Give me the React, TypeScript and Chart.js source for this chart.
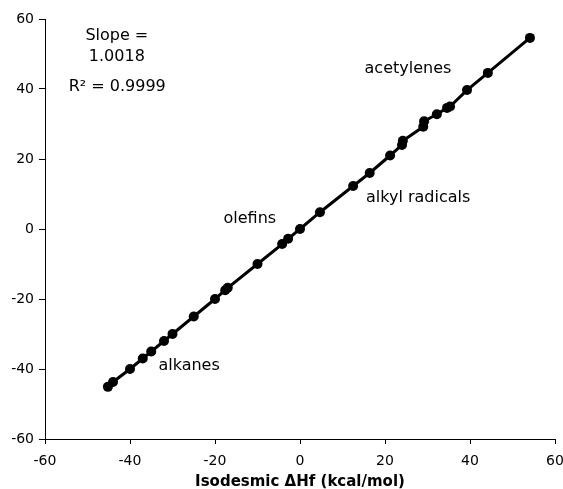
import React, { useEffect, useRef } from "react";
import { Chart, registerables } from "chart.js";

Chart.register(...registerables);

const xValues = [-45.2, -44, -40, -37, -35, -32, -30, -25, -20, -17.6, -17, -10, -4.2, -2.8, 0, 4.7, 12.5, 16.4, 21.2, 24, 24.2, 29, 29.2, 32.2, 34.6, 35.3, 39.3, 44.2, 54.1];
const yValues = [-45.1, -43.7, -40, -37, -35, -32, -30, -25, -20, -17.5, -16.8, -10, -4.3, -2.8, 0, 4.8, 12.3, 16, 21, 24, 25.2, 29.2, 30.8, 32.8, 34.6, 35, 39.7, 44.6, 54.6];

const xTitle = "Isodesmic \u0394Hf (kcal/mol)";

const labelTexts = ["Slope =", "1.0018", "R\u00B2 = 0.9999", "acetylenes", "alkyl radicals", "olefins", "alkanes"];
const labelX = [-43.1, -43.1, -43.0, 25.4, 27.8, -11.8, -26.1];
const labelY = [55.1, 49.1, 40.6, 45.7, 8.9, 2.9, -39.1];

const FONT = "'DejaVu Sans', Verdana, sans-serif";

const annotationPlugin = {
  id: "annotations",
  afterDatasetsDraw(chart: any) {
    const { ctx, scales } = chart;
    ctx.save();
    ctx.fillStyle = "#000";
    ctx.font = `16px ${FONT}`;
    ctx.textAlign = "center";
    ctx.textBaseline = "middle";
    labelTexts.forEach((t, i) => {
      ctx.fillText(t, scales.x.getPixelForValue(labelX[i]), scales.y.getPixelForValue(labelY[i]));
    });
    ctx.restore();
  },
};

export default function App() {
  const ref = useRef<HTMLCanvasElement>(null);
  useEffect(() => {
    if (!ref.current) return;
    const data = xValues.map((x, i) => ({ x, y: yValues[i] }));
    const chart = new Chart(ref.current, {
      type: "scatter",
      data: {
        datasets: [
          {
            data,
            showLine: true,
            borderColor: "#000",
            backgroundColor: "#000",
            borderWidth: 3,
            pointRadius: 5,
            pointBorderWidth: 0,
            pointBackgroundColor: "#000",
          },
        ],
      },
      options: {
        animation: false,
        responsive: true,
        maintainAspectRatio: false,
        layout: { padding: { top: 19, right: 8, left: 0, bottom: 0 } },
        plugins: { legend: { display: false }, tooltip: { enabled: false } },
        scales: {
          x: {
            type: "linear",
            min: -60,
            max: 60,
            ticks: { stepSize: 20, color: "#000", font: { family: FONT, size: 14 }, padding: 9, maxRotation: 0 },
            grid: { drawOnChartArea: false, drawTicks: true, tickLength: 5, color: "#000" },
            border: { display: true, color: "#000", width: 1 },
            title: { display: true, text: xTitle, color: "#000", font: { family: FONT, size: 15, weight: "bold", lineHeight: 1 }, padding: { top: 0, bottom: -1 } },
            afterFit: (s: any) => { s.height = 50; s.paddingLeft = 0; s.paddingRight = 0; },
          },
          y: {
            type: "linear",
            min: -60,
            max: 60,
            ticks: { stepSize: 20, color: "#000", font: { family: FONT, size: 14 }, padding: 5 },
            grid: { drawOnChartArea: false, drawTicks: true, tickLength: 6, color: "#000" },
            border: { display: true, color: "#000", width: 1 },
            afterFit: (s: any) => { s.width = 45; s.paddingTop = 0; s.paddingBottom = 0; },
          },
        },
      },
      plugins: [annotationPlugin],
    });
    return () => chart.destroy();
  }, []);
  return (
    <div style={{ position: "absolute", left: 0, top: 0, width: 563, height: 489, background: "#fff" }}>
      <canvas ref={ref} />
    </div>
  );
}
